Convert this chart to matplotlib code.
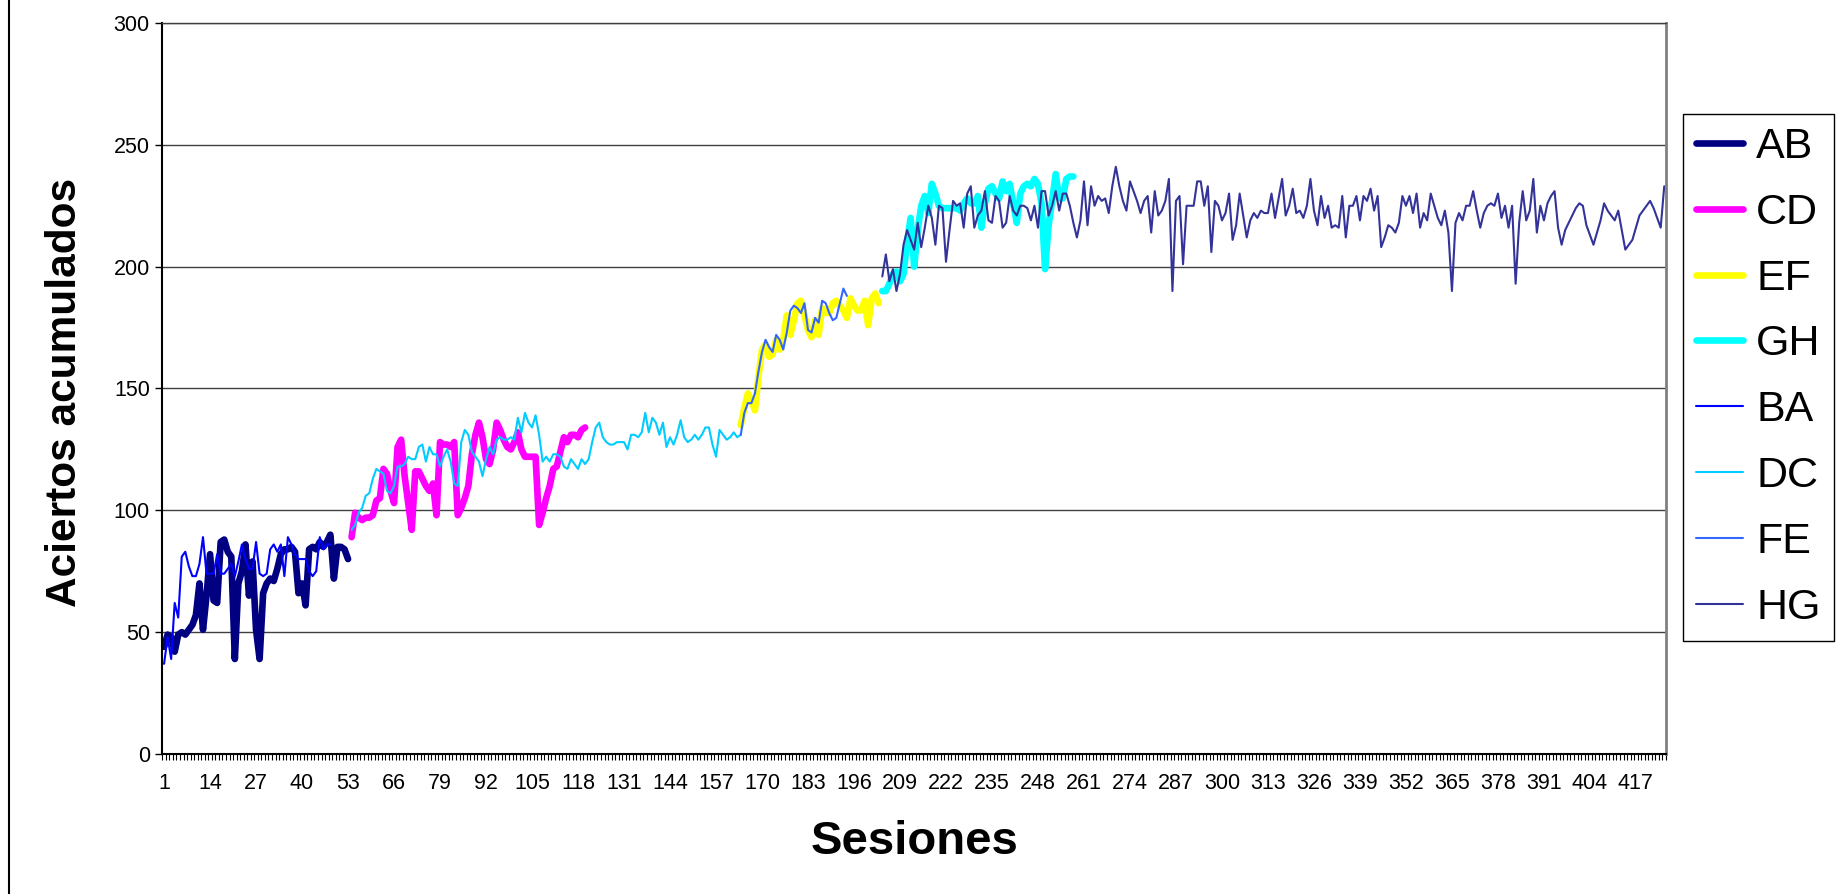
import numpy as np
import matplotlib
matplotlib.use('Agg')
import matplotlib.pyplot as plt
from matplotlib import font_manager
from matplotlib.lines import Line2D

plt.rcParams['font.family'] = ['Liberation Sans', 'DejaVu Sans']

# ---------------------------- datos ----------------------------#
n_sesiones = 425
etiquetas_x = np.arange(1, 418, 13)

ab_inicio = 1
ab = [44, 49, 48, 42, 49, 50, 49, 51, 53, 57, 70, 51, 65, 82, 63, 62, 87, 88, 83, 81,
      39, 70, 75, 86, 65, 79, 51, 39, 66, 70, 72, 71, 76, 82, 84, 84, 85, 83, 66, 70,
      61, 84, 85, 84, 87, 85, 87, 90, 72, 85, 85, 84, 80]

ba_inicio = 1
ba = [37, 48, 39, 62, 56, 81, 83, 77, 73, 73, 78, 89, 74, 74, 74, 82, 74, 74, 76, 78,
      73, 79, 86, 80, 76, 76, 87, 74, 73, 74, 84, 86, 83, 86, 73, 89, 86, 82, 80, 80,
      80, 75, 73, 75, 89, 84, 86, 86]

cd_inicio = 54
cd = [89, 99, 97, 96, 97, 97, 98, 104, 105, 117, 115, 108, 103, 126, 129, 114, 103, 92, 116, 116,
      113, 110, 108, 111, 98, 128, 127, 127, 126, 128, 98, 101, 105, 110, 123, 131, 136, 130, 121, 119,
      125, 136, 133, 129, 126, 125, 128, 132, 125, 122, 122, 122, 122, 94, 99, 105, 110, 117, 118, 124,
      130, 128, 131, 131, 130, 133, 134]

dc_inicio = 54
dc = [92, 94, 99, 101, 106, 107, 113, 117, 116, 115, 108, 107, 110, 118, 118, 119, 122, 121, 121, 126,
      127, 120, 126, 123, 123, 118, 122, 125, 120, 111, 110, 128, 133, 131, 124, 122, 120, 114, 121, 126,
      123, 129, 130, 129, 129, 130, 129, 138, 132, 140, 136, 134, 139, 131, 120, 122, 120, 123, 123, 122,
      118, 117, 121, 119, 117, 121, 119, 121, 128, 134, 136, 130, 128, 127, 127, 128, 128, 128, 125, 131,
      131, 130, 132, 140, 132, 138, 136, 131, 136, 126, 130, 127, 131, 137, 130, 128, 129, 131, 129, 131,
      134, 134, 127, 122, 133, 131, 129, 130, 132, 130, 131]

ef_inicio = 164
ef = [135, 142, 148, 145, 141, 155, 166, 168, 163, 164, 170, 166, 170, 180, 172, 178, 185, 186, 180, 174,
      171, 178, 172, 183, 181, 181, 185, 186, 184, 182, 179, 187, 184, 182, 182, 186, 176, 187, 189, 185]

fe_inicio = 164
fe = [131, 140, 144, 144, 148, 157, 165, 170, 167, 165, 172, 170, 166, 173, 182, 184, 183, 181, 185, 174,
      173, 179, 177, 186, 185, 181, 178, 179, 185, 191, 188]

gh_inicio = 204
gh = [190, 190, 193, 197, 198, 194, 197, 210, 220, 200, 215, 225, 229, 222, 234, 230, 225, 224, 224, 224,
      224, 224, 223, 226, 228, 226, 226, 229, 216, 226, 232, 233, 230, 228, 235, 231, 234, 226, 218, 230,
      233, 234, 233, 236, 234, 226, 199, 217, 227, 238, 228, 228, 236, 237, 237]

hg_inicio = 204
hg = [196, 205, 194, 199, 190, 197, 209, 215, 211, 207, 218, 208, 216, 225, 220, 209, 225, 224, 202, 215,
      227, 225, 226, 216, 230, 233, 216, 221, 223, 231, 219, 218, 229, 227, 216, 218, 229, 223, 221, 225,
      225, 224, 219, 225, 216, 231, 231, 221, 225, 231, 223, 230, 230, 225, 218, 212, 219, 235, 217, 233,
      225, 229, 227, 228, 222, 233, 241, 233, 227, 223, 235, 231, 227, 222, 227, 229, 214, 231, 221, 223,
      227, 236, 190,
      227, 229, 201, 225, 225, 225, 235, 235, 225, 233, 206, 227, 225, 219, 222, 230, 211, 217, 230, 221,
      212, 219, 222, 220, 223, 222, 222, 230, 220, 228, 236, 221, 225, 232, 222, 223, 220, 225, 236, 223,
      217, 229, 220, 225, 216, 217, 216, 229, 212, 225, 225, 229, 219, 229, 227, 232, 223, 229, 208, 212,
      217, 216, 214, 218, 229, 225, 229, 222, 230, 216, 222, 219, 230, 225, 220, 217, 223, 214,
      190,
      218, 222, 219, 225, 225, 231, 223, 216, 222, 225, 226, 225, 230, 220, 225, 216, 225,
      193,
      218, 231, 219, 223, 236, 214, 225, 219, 226, 229, 231, 216, 209, 215, 218, 221, 224, 226, 225, 217,
      213, 209, 214, 219, 226, 223, 221, 219, 223, 215, 207, 209, 211, 216, 221, 223, 225, 227, 224, 220,
      216, 233]

# (nombre, inicio, valores, color, grosor) en el orden de la leyenda
series = [
    ('AB', ab_inicio, ab, '#000080', 4.8),
    ('CD', cd_inicio, cd, '#FF00FF', 4.8),
    ('EF', ef_inicio, ef, '#FFFF00', 4.8),
    ('GH', gh_inicio, gh, '#00FFFF', 4.8),
    ('BA', ba_inicio, ba, '#0000FF', 1.5),
    ('DC', dc_inicio, dc, '#00CCFF', 1.5),
    ('FE', fe_inicio, fe, '#3366FF', 1.5),
    ('HG', hg_inicio, hg, '#333399', 1.5),
]

# ---------------------------- figura ----------------------------#
W, H = 1843, 894
fig = plt.figure(figsize=(W / 100, H / 100), dpi=100)
ax = fig.add_axes([162.3 / W, 1 - 754 / H, (1666 - 162.3) / W, (754 - 23) / H])

for nombre, ini, vals, col, lw in series:
    x = np.arange(ini, ini + len(vals))
    ax.plot(x, vals, color=col, lw=lw, label=nombre,
            solid_joinstyle='round', solid_capstyle='round')

ax.set_xlim(0.5, n_sesiones + 0.5)
ax.set_ylim(0, 300)

ax.set_xticks(etiquetas_x)
ax.set_xticklabels([str(v) for v in etiquetas_x], fontsize=15.5)
ax.set_xticks(np.arange(0.5, n_sesiones + 1, 1), minor=True)
ax.tick_params(axis='x', which='major', length=0, pad=14)
ax.tick_params(axis='x', which='minor', length=4, width=0.8, direction='out', color='black')

ax.set_yticks(np.arange(0, 301, 50))
ax.tick_params(axis='y', which='major', length=5, width=1, pad=4, labelsize=15.5)

ax.yaxis.grid(True, color='#404040', lw=1)
ax.set_axisbelow(True)

ax.spines['left'].set_color('black')
ax.spines['left'].set_linewidth(1.5)
ax.spines['bottom'].set_color('black')
ax.spines['bottom'].set_linewidth(1.5)
ax.spines['right'].set_color('#808080')
ax.spines['right'].set_linewidth(2)
ax.spines['top'].set_color('#404040')
ax.spines['top'].set_linewidth(1)

leg = fig.legend(loc='upper left', bbox_to_anchor=(1683 / W, 1 - 114 / H), fontsize=31,
                 frameon=True, fancybox=False, edgecolor='black', framealpha=1,
                 borderpad=0.3, labelspacing=0.6, handlelength=1.1, handletextpad=0.3,
                 borderaxespad=0)
leg.get_frame().set_linewidth(1)

# titulos de ejes
fig.text((162.3 + 1666) / 2 / W, 1 - 842 / H, 'Sesiones', ha='center', va='center',
         fontsize=34, fontweight='bold')

nombres = {f.name for f in font_manager.fontManager.ttflist}
if 'Liberation Sans Narrow' in nombres:
    yfam, ysize = 'Liberation Sans Narrow', 37
else:
    yfam, ysize = 'Liberation Sans', 30.5
fig.text(65 / W, 1 - 392 / H, 'Aciertos acumulados', ha='center', va='center',
         rotation=90, fontsize=ysize, fontweight='bold', family=yfam)

# borde izquierdo del area del grafico
fig.add_artist(Line2D([9 / W, 9 / W], [0, 1], transform=fig.transFigure, color='black', lw=1.5))

fig.savefig('out.png', dpi=100)
